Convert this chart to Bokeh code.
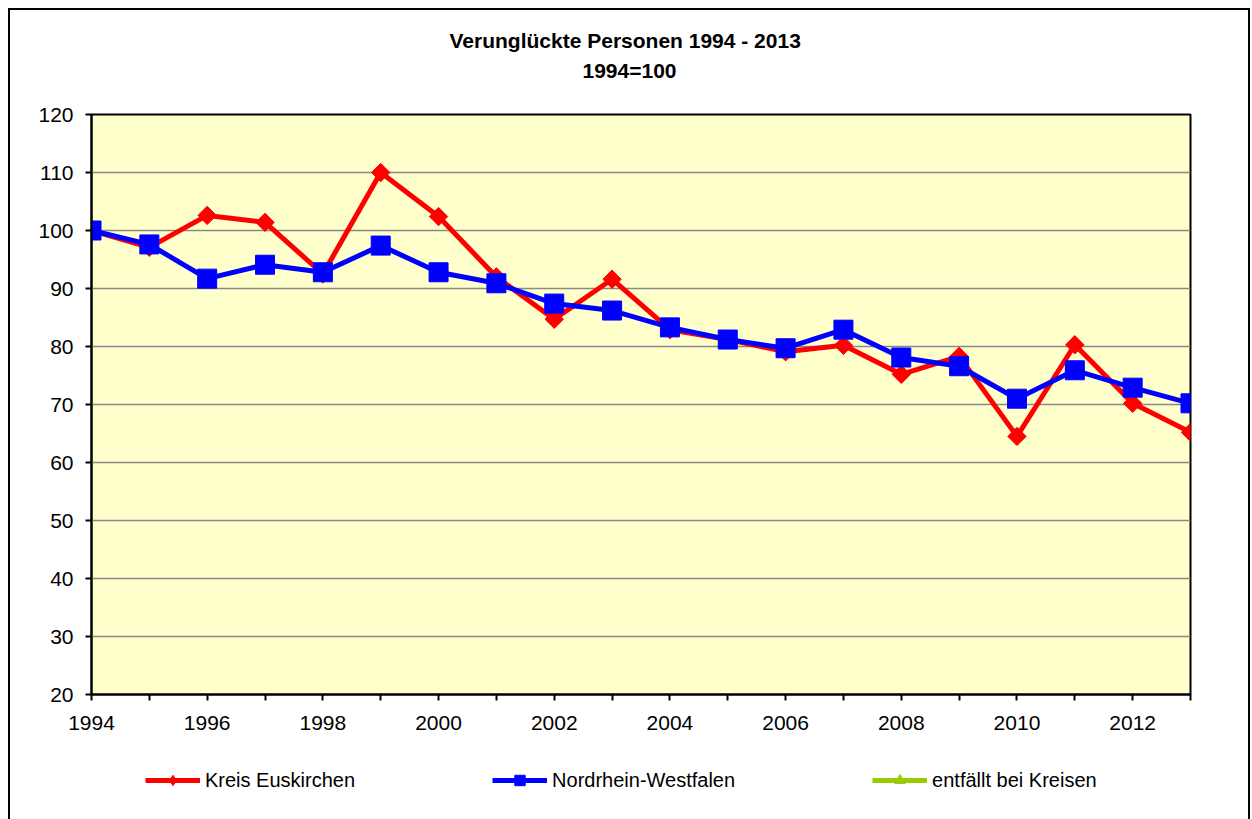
import math
from bokeh.plotting import figure
from bokeh.layouts import column
from bokeh.models import FixedTicker, Legend, LegendItem, Title, InlineStyleSheet, ColumnDataSource
from bokeh.embed import file_html
from bokeh.resources import INLINE

# ---- data ----
years = list(range(1994, 2014))
kreis_euskirchen = [100.0, 97.1, 102.6, 101.4, 92.5, 110.0, 102.4, 92.0, 84.7, 91.6,
                    82.9, 81.2, 79.1, 80.2, 75.2, 78.3, 64.5, 80.3, 70.2, 65.2]
nordrhein_westfalen = [100.0, 97.6, 91.7, 94.1, 92.8, 97.4, 92.8, 90.9, 87.4, 86.2,
                       83.3, 81.2, 79.7, 82.9, 78.1, 76.6, 71.0, 75.9, 72.9, 70.2]
# third series has no values for districts ("entfällt bei Kreisen")
entfaellt = [float("nan")] * len(years)
series_names = ["Kreis Euskirchen", "Nordrhein-Westfalen", "entfällt bei Kreisen"]
y_ticks = list(range(20, 121, 10))
title_line1 = "Verunglückte Personen 1994 - 2013"
title_line2 = "1994=100"

FONT = "Liberation Sans"
RED, BLUE, GREEN = "#FF0000", "#0000FF", "#99CC00"

src = ColumnDataSource(dict(x=years, k=kreis_euskirchen, n=nordrhein_westfalen, e=entfaellt))

p = figure(width=1238, height=735, x_range=(1994, 2013), y_range=(20, 120),
           output_backend="svg", toolbar_location=None,
           min_border_left=81, min_border_right=58, min_border_top=104,
           min_border_bottom=51, background_fill_color="#FFFFCC",
           border_fill_color="white")

tkw = dict(text_font=FONT, text_font_size="21px", text_font_style="bold", text_color="black")
p.title = Title(text=title_line1, align="left", offset=358, standoff=5, **tkw)
p.add_layout(Title(text=" ", align="left", standoff=5, **tkw), "above")
p.add_layout(Title(text=title_line2, align="left", offset=491, standoff=5, **tkw), "above")

p.outline_line_color = "black"
p.outline_line_width = 2

p.xgrid.grid_line_color = None
p.ygrid.grid_line_color = "#888888"
p.ygrid.grid_line_width = 1.5
p.ygrid.ticker = FixedTicker(ticks=y_ticks)

p.yaxis.ticker = FixedTicker(ticks=y_ticks)
p.xaxis.ticker = FixedTicker(ticks=years)
p.xaxis.major_label_overrides = {y: (str(y) if (y - 1994) % 2 == 0 else "") for y in years}

for ax in (p.xaxis[0], p.yaxis[0]):
    ax.axis_line_color = "black"
    ax.axis_line_width = 2
    ax.major_tick_line_color = "black"
    ax.major_tick_line_width = 2
    ax.major_tick_out = 6
    ax.major_tick_in = 0
    ax.minor_tick_line_color = None
    ax.major_label_text_font = FONT
    ax.major_label_text_font_size = "21px"
    ax.major_label_text_color = "black"
p.yaxis.major_label_standoff = 12
p.xaxis.major_label_standoff = 15

p.line("x", "k", source=src, line_color=RED, line_width=5)
p.scatter("x", "k", source=src, marker="square", angle=math.pi / 4, size=13,
          fill_color=RED, line_color=RED)
p.line("x", "n", source=src, line_color=BLUE, line_width=5)
p.scatter("x", "n", source=src, marker="square", size=19, fill_color=BLUE, line_color=BLUE)
p.line("x", "e", source=src, line_color=GREEN, line_width=5)
p.scatter("x", "e", source=src, marker="triangle", size=14, fill_color=GREEN, line_color=GREEN)

# ---- legend strip (same data source; its ranges show only the legend) ----
lg = figure(width=1238, height=74, x_range=(0, 1), y_range=(0, 1),
            output_backend="svg", toolbar_location=None, min_border=0,
            border_fill_color="white", background_fill_color="white")
lg.axis.visible = False
lg.grid.grid_line_color = None
lg.outline_line_color = None

l1 = lg.line("x", "k", source=src, line_color=RED, line_width=5)
m1 = lg.scatter("x", "k", source=src, marker="diamond", size=15, fill_color=RED, line_color=RED)
l2 = lg.line("x", "n", source=src, line_color=BLUE, line_width=5)
m2 = lg.scatter("x", "n", source=src, marker="square", size=12, fill_color=BLUE, line_color=BLUE)
l3 = lg.line("x", "e", source=src, line_color=GREEN, line_width=5)
m3 = lg.scatter("x", "e", source=src, marker="triangle", size=12, fill_color=GREEN, line_color=GREEN)

legend = Legend(items=[LegendItem(label=series_names[0], renderers=[l1, m1]),
                       LegendItem(label=series_names[1], renderers=[l2, m2]),
                       LegendItem(label=series_names[2], renderers=[l3, m3])],
                orientation="horizontal", location=(49, 21),
                border_line_alpha=0, background_fill_alpha=0,
                spacing=137, glyph_width=55, glyph_height=26, label_standoff=5,
                label_text_font=FONT, label_text_font_size="20px", label_text_color="black",
                margin=0, padding=5)
lg.add_layout(legend, "center")

layout = column(p, lg, spacing=0)
layout.stylesheets = [InlineStyleSheet(css=":host { margin-left: 8px; margin-top: 8px; border-left: 2px solid black; border-top: 2px solid black; border-right: 2px solid black; }")]

open("out.html", "w").write(file_html(layout, INLINE))
